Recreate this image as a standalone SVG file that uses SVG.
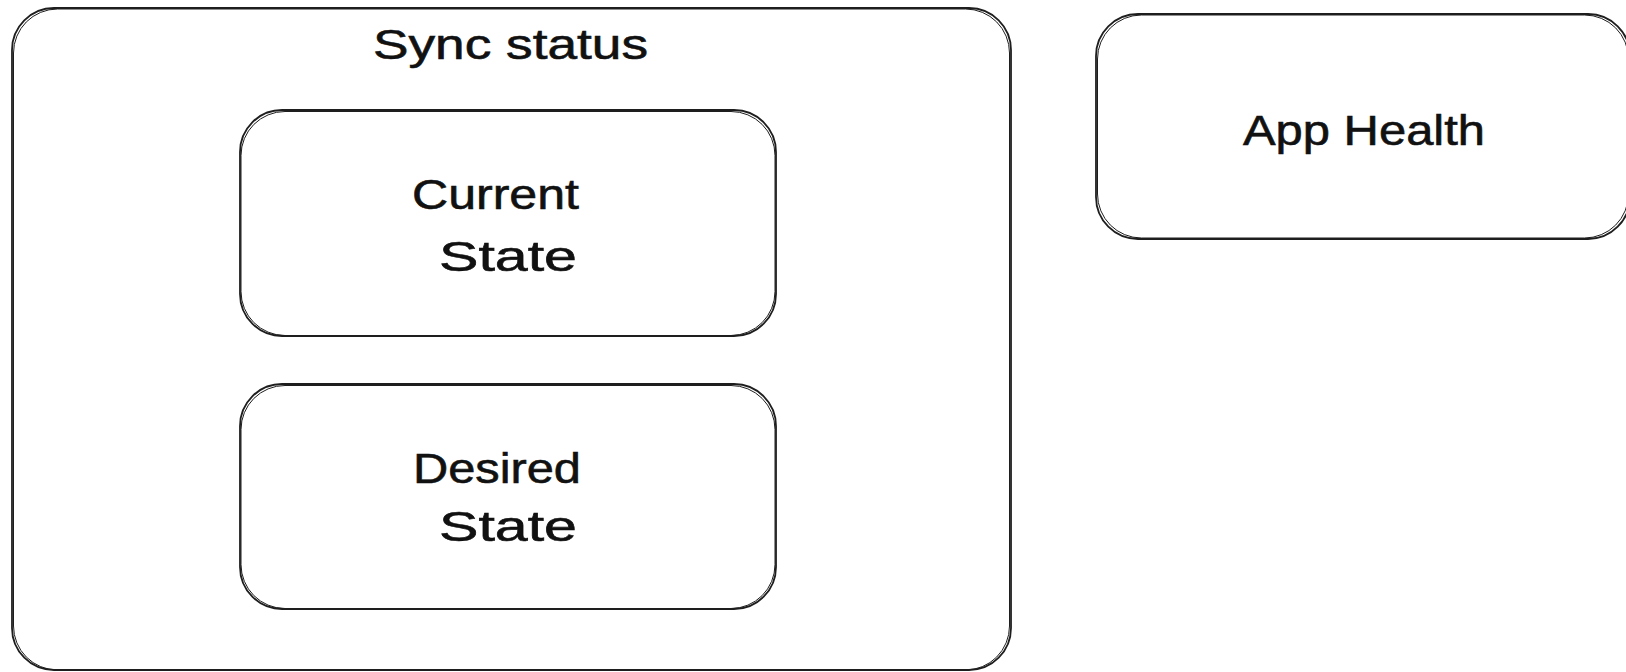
<svg xmlns="http://www.w3.org/2000/svg" width="1626" height="672" viewBox="0 0 1626 672">
  <style>
    .box { fill: none; stroke: #1e1e1e; stroke-width: 1.8; }
    .box2 { fill: none; stroke: #1e1e1e; stroke-width: 1; }
    .lbl { font-family: "Liberation Sans", Arial, sans-serif; font-size: 42px; fill: #111111; stroke: #111111; stroke-width: 0.6; }
  </style>
  <rect width="1626" height="672" fill="#ffffff"/>
  <g id="sync-status">
    <rect class="box" x="12" y="8" width="999" height="662" rx="42" ry="42"/>
    <rect class="box2" x="13.5" y="9" width="996" height="661" rx="44" ry="44"/>
    <text class="lbl" x="373" y="59" textLength="275" lengthAdjust="spacingAndGlyphs">Sync status</text>
  </g>
  <g id="current-state">
    <rect class="box" x="240" y="110" width="536" height="226" rx="42" ry="42"/>
    <rect class="box2" x="241" y="111.5" width="534" height="224" rx="44" ry="44"/>
    <text class="lbl" x="412" y="209" textLength="167" lengthAdjust="spacingAndGlyphs">Current</text>
    <text class="lbl" x="439" y="271" textLength="138" lengthAdjust="spacingAndGlyphs">State</text>
  </g>
  <g id="desired-state">
    <rect class="box" x="240" y="384" width="536" height="225" rx="42" ry="42"/>
    <rect class="box2" x="241" y="385.5" width="534" height="223" rx="44" ry="44"/>
    <text class="lbl" x="413" y="483" textLength="168" lengthAdjust="spacingAndGlyphs">Desired</text>
    <text class="lbl" x="439" y="541" textLength="138" lengthAdjust="spacingAndGlyphs">State</text>
  </g>
  <g id="app-health">
    <rect class="box" x="1096" y="14" width="534" height="225" rx="42" ry="42"/>
    <rect class="box2" x="1097.5" y="15" width="531" height="223" rx="44" ry="44"/>
    <text class="lbl" x="1243" y="145" textLength="242" lengthAdjust="spacingAndGlyphs">App Health</text>
  </g>
  <g id="connectors"></g>
</svg>
